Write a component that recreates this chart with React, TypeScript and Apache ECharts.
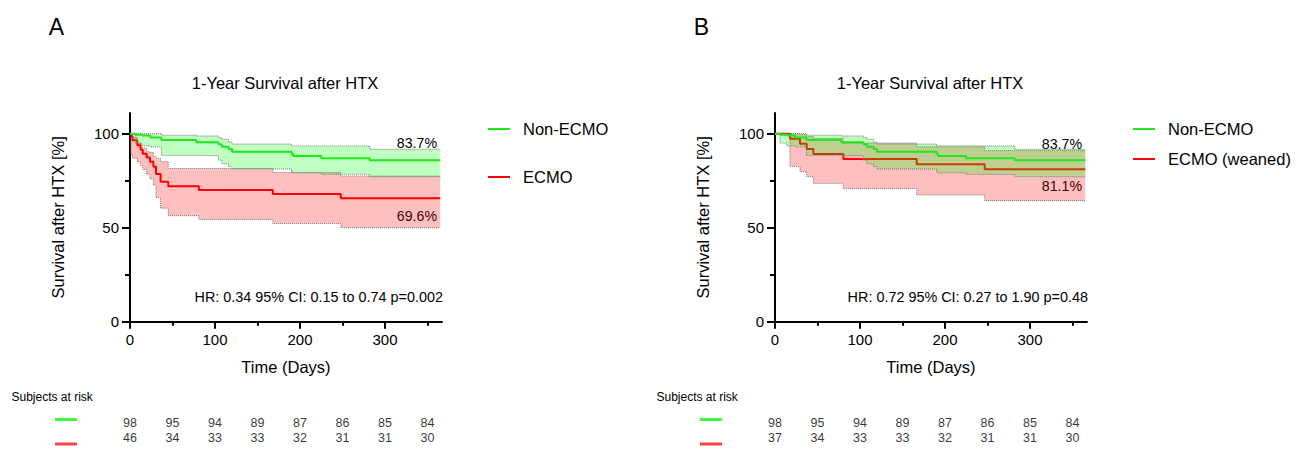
import React, { useEffect, useRef } from "react";
import * as echarts from "echarts";

const FONT = "'Liberation Sans', Arial, Helvetica, sans-serif";

const xMajorTicks = [0, 100, 200, 300];
const xMinorTicks = [50, 150, 250, 350];
const yMajorTicks = [0, 50, 100];
const yMinorTicks = [25, 75];

// Non-ECMO (same group in both panels)
const nonEcmoDays = [0, 6, 14, 24, 37, 78, 104, 108, 116, 120, 190, 192, 225, 282, 365];
const nonEcmoSurvival = [100, 99.5, 99, 98, 96.6, 95.4, 94.4, 93.1, 91.8, 90.4, 89.2, 88.1, 86.9, 85.9, 85.9];
const nonEcmoUpper = [100, 100, 100, 100, 99.2, 98.8, 98, 97, 95.5, 94.5, 93.5, 93.5, 93.5, 91.7, 91.7];
const nonEcmoLower = [100, 95, 93.5, 93, 88.5, 88.3, 86, 84, 82.5, 81.2, 79.6, 79.2, 78.4, 77.1, 77.1];

// ECMO (panel A)
const ecmoDays = [0, 1, 3, 8.6, 12.5, 15, 19.6, 23.5, 27.5, 30.6, 36, 45, 81, 168, 248, 365];
const ecmoSurvival = [100, 98.6, 96.5, 93.8, 91.5, 89.4, 87.3, 85.1, 82.4, 78.5, 74.4, 72.1, 70.0, 67.9, 65.6, 65.6];
const ecmoUpper = [100, 100, 98, 95, 92.5, 92.2, 90.4, 90.0, 87.8, 87.0, 85.1, 81.5, 81.5, 79.3, 77.5, 77.5];
const ecmoLower = [100, 89, 87, 85, 83, 81, 78.5, 76, 72.7, 66, 60.4, 56.4, 54.4, 52.2, 50.0, 50.0];

// ECMO weaned (panel B)
const weanedDays = [0, 17.6, 29.4, 37.3, 45.1, 80.4, 166.7, 246.7, 365];
const weanedSurvival = [100, 97.3, 94.6, 91.9, 89.2, 86.5, 83.8, 81.1, 81.1];
const weanedUpper = [100, 100, 99.5, 98.5, 97.5, 95, 93, 91, 91];
const weanedLower = [100, 82.5, 79.8, 77.1, 73.6, 70.8, 67.4, 64.4, 64.4];

// Subjects at risk
const riskTimes = [0, 50, 100, 150, 200, 250, 300, 350];
const riskNonEcmo = [98, 95, 94, 89, 87, 86, 85, 84];
const riskEcmo = [46, 34, 33, 33, 32, 31, 31, 30];
const riskWeaned = [37, 34, 33, 33, 32, 31, 31, 30];

const X_MAX = 367;
const Y_MAX = 111;
const GREEN = "#1ee81e";
const RED = "#ff0000";
const GREEN_FILL = "rgba(0,255,0,0.25)";
const RED_FILL = "rgba(255,0,0,0.25)";

function pairs(days: number[], vals: number[]) {
  return days.map((d, i) => [d, vals[i]]);
}

const dotted = { color: "#777", width: 1, type: "dotted" as const };

function stepPoints(days: number[], vals: number[]) {
  const pts: number[][] = [];
  for (let i = 0; i < days.length; i++) {
    pts.push([days[i], vals[i]]);
    if (i < days.length - 1) pts.push([days[i + 1], vals[i]]);
  }
  return pts;
}

function bandSeries(id: string, axis: number, days: number[], lower: number[], upper: number[], fill: string, z: number) {
  return [
    {
      type: "custom", name: id, xAxisIndex: axis, yAxisIndex: axis, silent: true, z,
      data: days.map((d, i) => [d, lower[i], upper[i]]),
      renderItem: (params: any, api: any) => {
        if (params.dataIndex !== 0) return null;
        const up = stepPoints(days, upper).map((p) => api.coord(p));
        const lo = stepPoints(days, lower).map((p) => api.coord(p)).reverse();
        return {
          type: "polygon",
          shape: { points: up.concat(lo) },
          style: { fill, stroke: "none" },
        };
      },
    },
    {
      type: "line", name: id + " lower", xAxisIndex: axis, yAxisIndex: axis, step: "end", z,
      symbol: "none", silent: true, data: pairs(days, lower), lineStyle: dotted,
    },
    {
      type: "line", name: id + " upper", xAxisIndex: axis, yAxisIndex: axis, step: "end", z,
      symbol: "none", silent: true, data: pairs(days, upper), lineStyle: dotted,
    },
  ];
}

function curveSeries(name: string, axis: number, days: number[], vals: number[], color: string, z: number) {
  return {
    type: "line", name, xAxisIndex: axis, yAxisIndex: axis, step: "end", symbol: "none", silent: true, z,
    data: pairs(days, vals), lineStyle: { color, width: 2 },
  };
}

function xAxes(gridIndex: number) {
  return [
    {
      type: "value", gridIndex, min: 0, max: X_MAX, position: "bottom",
      name: "Time (Days)", nameLocation: "middle", nameGap: 37,
      nameTextStyle: { fontSize: 16.5, color: "#000", fontFamily: FONT },
      axisLine: { show: true, onZero: false, lineStyle: { color: "#000", width: 2 } },
      axisTick: { show: true, customValues: xMajorTicks, length: 7, lineStyle: { color: "#000", width: 2 } },
      axisLabel: { show: true, customValues: xMajorTicks, margin: 10, fontSize: 15, color: "#000", fontFamily: FONT },
      splitLine: { show: false },
    },
    {
      type: "value", gridIndex, min: 0, max: X_MAX, position: "bottom",
      axisLine: { show: false },
      axisTick: { show: true, customValues: xMinorTicks, length: 4, lineStyle: { color: "#000", width: 2 } },
      axisLabel: { show: false },
      splitLine: { show: false },
    },
  ];
}

function yAxes(gridIndex: number) {
  return [
    {
      type: "value", gridIndex, min: 0, max: Y_MAX, position: "left",
      name: "Survival after HTX [%]", nameLocation: "middle", nameGap: 64,
      nameTextStyle: { fontSize: 16.5, color: "#000", fontFamily: FONT },
      axisLine: { show: true, onZero: false, lineStyle: { color: "#000", width: 2 } },
      axisTick: { show: true, customValues: yMajorTicks, length: 8, lineStyle: { color: "#000", width: 2 } },
      axisLabel: { show: true, customValues: yMajorTicks, margin: 11, fontSize: 15, color: "#000", fontFamily: FONT },
      splitLine: { show: false },
    },
    {
      type: "value", gridIndex, min: 0, max: Y_MAX, position: "left",
      axisLine: { show: false },
      axisTick: { show: true, customValues: yMinorTicks, length: 5, lineStyle: { color: "#000", width: 2 } },
      axisLabel: { show: false },
      splitLine: { show: false },
    },
  ];
}

function riskSeries(axis: number, top: number[], bottom: number[]) {
  const lbl = {
    show: true, position: "inside", fontSize: 12.5, color: "#000", fontFamily: FONT,
    formatter: (p: any) => String(p.value[2]),
  };
  return [
    {
      type: "scatter", xAxisIndex: axis, yAxisIndex: axis, symbolSize: 1, silent: true,
      itemStyle: { color: "rgba(0,0,0,0)" }, label: lbl,
      data: riskTimes.map((t, i) => [t, 1, top[i]]),
    },
    {
      type: "scatter", xAxisIndex: axis, yAxisIndex: axis, symbolSize: 1, silent: true,
      itemStyle: { color: "rgba(0,0,0,0)" }, label: lbl,
      data: riskTimes.map((t, i) => [t, 0, bottom[i]]),
    },
  ];
}

function txt(text: string, x: number, y: number, size: number, align = "left") {
  return {
    type: "text", x, y, silent: true,
    style: { text, fontSize: size, fontFamily: FONT, fill: "#000", align, verticalAlign: "middle" },
  };
}

function seg(x1: number, x2: number, y: number, color: string, w: number) {
  return { type: "line", silent: true, shape: { x1, y1: y, x2, y2: y }, style: { stroke: color, lineWidth: w } };
}

function panelGraphics(ox: number, letter: string, redName: string, legendGap: number, pctTop: string, pctTopY: number, pctBottom: string, pctBottomY: number, hr: string) {
  return [
    txt(letter, ox - 73.5, 27, 23, "center"),
    txt("1-Year Survival after HTX", ox + 155, 83, 16.5, "center"),
    seg(ox + 358, ox + 380, 129, GREEN, 2),
    txt("Non-ECMO", ox + 393, 129, 16.5),
    seg(ox + 358, ox + 380, 129 + legendGap, RED, 2),
    txt(redName, ox + 393, 129 + legendGap, 16.5),
    txt(pctTop, ox + 307, pctTopY, 14.2, "right"),
    txt(pctBottom, ox + 307, pctBottomY, 14.2, "right"),
    txt(hr, ox + 313, 297, 14.4, "right"),
    txt("Subjects at risk", ox - 118.5, 397, 12),
    seg(ox - 75, ox - 53, 419.5, "#3cff3c", 3),
    seg(ox - 75, ox - 53, 444, "#ff4444", 3),
  ];
}

const GRID_W = X_MAX * 0.85;
const GRID_H = Y_MAX * 1.88;
const AX = 130;
const BX = 775;

const option: any = {
  animation: false,
  backgroundColor: "#fff",
  textStyle: { fontFamily: FONT },
  grid: [
    { left: AX, top: 321.7 - GRID_H, width: GRID_W, height: GRID_H },
    { left: BX, top: 321.7 - GRID_H, width: GRID_W, height: GRID_H },
    { left: AX, top: 423, width: GRID_W, height: 15 },
    { left: BX, top: 423, width: GRID_W, height: 15 },
  ],
  xAxis: [
    ...xAxes(0), // 0,1
    ...xAxes(1), // 2,3
    { type: "value", gridIndex: 2, min: 0, max: X_MAX, show: false }, // 4
    { type: "value", gridIndex: 3, min: 0, max: X_MAX, show: false }, // 5
  ],
  yAxis: [
    ...yAxes(0),
    ...yAxes(1),
    { type: "value", gridIndex: 2, min: 0, max: 1, show: false },
    { type: "value", gridIndex: 3, min: 0, max: 1, show: false },
  ],
  series: [
    // Panel A
    ...bandSeries("ecmoBand", 0, ecmoDays, ecmoLower, ecmoUpper, RED_FILL, 2),
    curveSeries("ECMO", 0, ecmoDays, ecmoSurvival, RED, 3),
    ...bandSeries("nonEcmoBandA", 0, nonEcmoDays, nonEcmoLower, nonEcmoUpper, GREEN_FILL, 4),
    curveSeries("Non-ECMO", 0, nonEcmoDays, nonEcmoSurvival, GREEN, 5),
    // Panel B
    ...bandSeries("weanedBand", 2, weanedDays, weanedLower, weanedUpper, RED_FILL, 2),
    curveSeries("ECMO (weaned)", 2, weanedDays, weanedSurvival, RED, 3),
    ...bandSeries("nonEcmoBandB", 2, nonEcmoDays, nonEcmoLower, nonEcmoUpper, GREEN_FILL, 4),
    curveSeries("Non-ECMO ", 2, nonEcmoDays, nonEcmoSurvival, GREEN, 5),
    // Risk tables
    ...riskSeries(4, riskNonEcmo, riskEcmo),
    ...riskSeries(5, riskNonEcmo, riskWeaned),
  ],
  graphic: [
    ...panelGraphics(AX, "A", "ECMO", 48, "83.7%", 143, "69.6%", 216, "HR: 0.34 95% CI: 0.15 to 0.74 p=0.002"),
    ...panelGraphics(BX, "B", "ECMO (weaned)", 30, "83.7%", 144, "81.1%", 186, "HR: 0.72 95% CI: 0.27 to 1.90 p=0.48"),
  ],
};

export default function App() {
  const ref = useRef<HTMLDivElement>(null);
  useEffect(() => {
    const chart = echarts.init(ref.current!, null, { renderer: "svg", width: 1305, height: 462 });
    chart.setOption(option);
    return () => chart.dispose();
  }, []);
  return (
    <div
      ref={ref}
      style={{ position: "fixed", left: 0, top: 0, width: 1305, height: 462, background: "#fff" }}
    />
  );
}
